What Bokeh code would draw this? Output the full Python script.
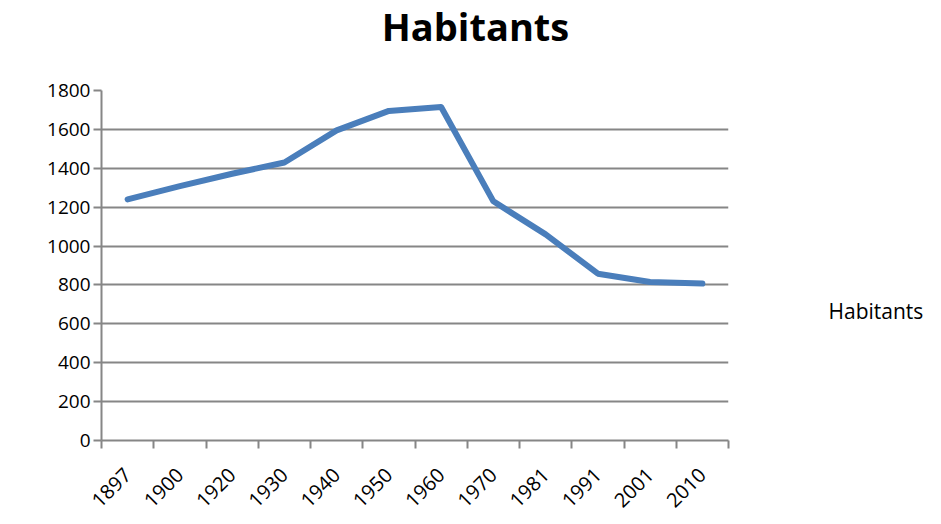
import numpy as np
from bokeh.plotting import figure
from bokeh.models import FixedTicker, Range1d, Label
from bokeh.layouts import column, row
from bokeh.embed import file_html
from bokeh.resources import INLINE

years = ["1897", "1900", "1920", "1930", "1940", "1950", "1960", "1970", "1981", "1991", "2001", "2010"]
habitants = [1240, 1308, 1372, 1430, 1595, 1695, 1715, 1230, 1060, 858, 815, 807]
y_ticks = [0, 200, 400, 600, 800, 1000, 1200, 1400, 1600, 1800]
title_text = "Habitants"
series_name = "Habitants"

W, H = 925, 516
TITLE_H = 75
MAIN_W = 740
TOP_B, FRAME_H = 15, 350
BOT_B = H - TITLE_H - TOP_B - FRAME_H
FONT = "Open Sans"
GRID = "#868686"


def blank(width, height, x_end, y_end, **kw):
    f = figure(width=width, height=height, output_backend="svg", toolbar_location=None,
               x_range=Range1d(0, x_end), y_range=Range1d(0, y_end),
               x_axis_type=None, y_axis_type=None, **kw)
    f.grid.visible = False
    f.outline_line_color = None
    return f


# title strip
t = blank(W, TITLE_H, W, TITLE_H, min_border=0)
t.add_layout(Label(x=475, y=TITLE_H - 25, text=title_text, text_font=FONT,
                   text_font_size="38px", text_font_style="bold", text_color="black",
                   text_align="center", text_baseline="middle"))

# main chart
xs = np.arange(len(years)) + 0.5
p = figure(width=MAIN_W, height=H - TITLE_H, output_backend="svg", toolbar_location=None,
           x_range=Range1d(0, len(years)), y_range=Range1d(0, 1800),
           min_border_left=101, min_border_right=MAIN_W - 728,
           min_border_top=TOP_B, min_border_bottom=BOT_B)
p.outline_line_color = None
p.line(xs, habitants, line_color="#4A7EBB", line_width=6, line_join="round", line_cap="round")

p.xaxis.ticker = FixedTicker(ticks=list(xs), minor_ticks=list(range(len(years) + 1)))
p.xaxis.major_label_overrides = {float(x): y for x, y in zip(xs, years)}
p.xaxis.major_label_orientation = np.pi / 4
p.xaxis.major_tick_line_color = None
p.xaxis.minor_tick_in = 0
p.xaxis.minor_tick_out = 8
p.xaxis.minor_tick_line_color = GRID
p.xaxis.minor_tick_line_width = 2
p.xaxis.axis_line_color = GRID
p.xaxis.axis_line_width = 2
p.xaxis.major_label_text_font = FONT
p.xaxis.major_label_text_font_size = "20px"
p.xaxis.major_label_text_color = "black"
p.xaxis.major_label_standoff = 23
p.xgrid.grid_line_color = None

p.yaxis.ticker = FixedTicker(ticks=y_ticks)
p.yaxis.minor_tick_line_color = None
p.yaxis.major_tick_in = 0
p.yaxis.major_tick_out = 8
p.yaxis.major_tick_line_color = GRID
p.yaxis.major_tick_line_width = 2
p.yaxis.axis_line_color = GRID
p.yaxis.axis_line_width = 2
p.yaxis.major_label_text_font = FONT
p.yaxis.major_label_text_font_size = "19px"
p.yaxis.major_label_text_color = "black"
p.yaxis.major_label_standoff = 3
p.ygrid.grid_line_color = GRID
p.ygrid.grid_line_width = 2

# legend strip (text only); its frame matches the main frame vertically
lg = blank(W - MAIN_W, H - TITLE_H, W - MAIN_W, FRAME_H,
           min_border_left=0, min_border_right=0, min_border_top=TOP_B, min_border_bottom=BOT_B)
lg.add_layout(Label(x=828 - MAIN_W, y=440 - 310, text=series_name,
                    text_font=FONT, text_font_size="21px", text_color="black",
                    text_align="left", text_baseline="middle"))

layout = column(t, row(p, lg, spacing=0), spacing=0)
open("out.html", "w").write(file_html(layout, INLINE))
